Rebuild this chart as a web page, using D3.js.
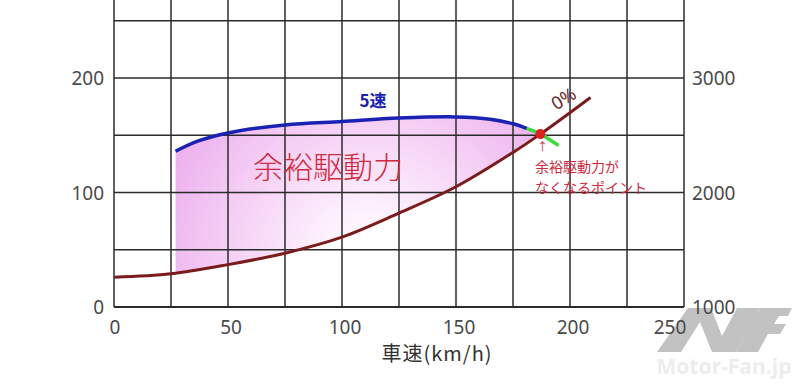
<!DOCTYPE html>
<html>
<head>
<meta charset="utf-8">
<script src="https://cdn.jsdelivr.net/npm/d3@7"></script>
<style>
  body { margin: 0; background: #fff; }
  svg { display: block; }
</style>
</head>
<body>
<div id="chart"></div>
<script>
// speed (km/h) vs driving force
const speedTicks = [0, 50, 100, 150, 200, 250];
const leftTicks = [0, 100, 200];
const rightTicks = [1000, 2000, 3000];

const roadSpeed = [0, 25, 50, 75, 100, 125, 150, 175, 187, 209];
const roadLoad = [26, 29, 37, 47, 61, 82, 105, 135, 151, 183]; // 0%

const gearSpeed = [27, 37, 50, 75, 100, 125, 150, 165, 175, 181];
const gearForce = [136, 145, 152, 159, 162, 165, 166, 164, 160, 156]; // 5速

const tanSpeed = [181, 187, 195];
const tanForce = [156, 151, 141];

const fillBottomSpeed = [27, 50, 75, 100, 125, 150, 175, 187];
const fillBottomForce = [29.5, 37, 47, 61, 82, 105, 135, 151];

const crossPoint = { speed: 187, force: 151 };

const W = 800, H = 388;
const svg = d3.select("#chart").append("svg")
  .attr("width", W).attr("height", H);

const x = d3.scaleLinear().domain([0, 250]).range([114, 684]);
const y = d3.scaleLinear().domain([0, 200]).range([307, 78]);
const yR = d3.scaleLinear().domain([1000, 3000]).range([307, 78]);

const defs = svg.append("defs");
const grad = defs.append("radialGradient")
  .attr("id", "pinkfill")
  .attr("gradientUnits", "userSpaceOnUse")
  .attr("cx", 370).attr("cy", 262).attr("r", 260);
grad.append("stop").attr("offset", "0").attr("stop-color", "#ffffff");
grad.append("stop").attr("offset", "0.2").attr("stop-color", "#fdf1fd");
grad.append("stop").attr("offset", "0.55").attr("stop-color", "#f5cff5");
grad.append("stop").attr("offset", "1").attr("stop-color", "#e8a2ea");

const curve = d3.line().x(d => x(d[0])).y(d => y(d[1])).curve(d3.curveCatmullRom.alpha(0.5));

// pink area between the 5th gear curve and the road load
const topPts = gearSpeed.map((s, i) => [s, gearForce[i]])
  .concat([[crossPoint.speed, crossPoint.force]]);
const botPts = fillBottomSpeed.map((s, i) => [s, fillBottomForce[i]]).reverse();
svg.append("path")
  .attr("d", curve(topPts) + "L" + curve(botPts).slice(1) + "Z")
  .attr("fill", "url(#pinkfill)");

// grid
const grid = svg.append("g").attr("stroke", "#2b2b2b").attr("stroke-width", 1.5);
d3.range(0, 251, 25).forEach(v => {
  grid.append("line")
    .attr("x1", x(v)).attr("x2", x(v))
    .attr("y1", 0).attr("y2", y(0));
});
d3.range(0, 251, 50).forEach(v => {
  grid.append("line")
    .attr("x1", x(0)).attr("x2", x(250))
    .attr("y1", y(v)).attr("y2", y(v))
    .attr("stroke-width", v === 0 ? 2 : 1.5);
});

// watermark logo (under the tick labels)
const logo = svg.append("g").attr("fill", "#c2c2c2");
logo.append("path").attr("d",
  "M657,352 L681,352 L700,322 L712,352 L736,352 L756,316 L760,308 L737,308 L722,336 L711,308 L688,308 Z");
logo.append("path").attr("d",
  "M736,352 L758,352 L768,334 L780,334 L786,324 L774,324 L779,316 L788,316 L792,308 L760,308 Z");
svg.append("text")
  .attr("x", 724).attr("y", 374)
  .attr("text-anchor", "middle")
  .attr("font-family", "'Open Sans', sans-serif").attr("font-size", 21).attr("font-weight", "bold")
  .attr("fill", "#ededed")
  .text("Motor-Fan.jp");

// tick labels
const tickFont = "'Noto Sans', 'DejaVu Sans', sans-serif";
svg.append("g").selectAll("text").data(leftTicks).join("text")
  .attr("x", 104).attr("y", d => y(d) + 7)
  .attr("text-anchor", "end")
  .attr("font-family", tickFont).attr("font-size", 19)
  .attr("fill", "#4a4a4a")
  .text(d => d);

svg.append("g").selectAll("text").data(speedTicks).join("text")
  .attr("x", d => x(d) + (d === 250 ? -14 : d === 0 ? 1 : 3))
  .attr("y", 334)
  .attr("text-anchor", "middle")
  .attr("font-family", tickFont).attr("font-size", 19)
  .attr("fill", "#4a4a4a")
  .text(d => d);

svg.append("g").selectAll("text").data(rightTicks).join("text")
  .attr("x", 692).attr("y", d => yR(d) + 7)
  .attr("font-family", tickFont).attr("font-size", 19)
  .attr("fill", "#4a4a4a")
  .text(d => d);

svg.append("text")
  .attr("x", 437).attr("y", 361)
  .attr("text-anchor", "middle")
  .attr("font-family", "'Noto Sans CJK JP', sans-serif")
  .attr("font-size", 20).attr("fill", "#333")
  .attr("letter-spacing", 1)
  .text("車速(km/h)");

// curves
svg.append("path")
  .attr("d", curve(roadSpeed.map((s, i) => [s, roadLoad[i]])))
  .attr("fill", "none").attr("stroke", "#7a1c1c").attr("stroke-width", 3);

svg.append("path")
  .attr("d", curve(tanSpeed.map((s, i) => [s, tanForce[i]])))
  .attr("fill", "none").attr("stroke", "#3ddc3d").attr("stroke-width", 3.5);

svg.append("path")
  .attr("d", curve(gearSpeed.map((s, i) => [s, gearForce[i]])))
  .attr("fill", "none").attr("stroke", "#1a22b4").attr("stroke-width", 3.5);

svg.append("circle")
  .attr("cx", x(crossPoint.speed)).attr("cy", y(crossPoint.force))
  .attr("r", 5).attr("fill", "#dd2020");

// labels
const jp = "'Noto Sans CJK JP', sans-serif";
svg.append("text")
  .attr("x", 373).attr("y", 107)
  .attr("text-anchor", "middle")
  .attr("font-family", jp).attr("font-size", 17).attr("font-weight", "bold")
  .attr("fill", "#1a22b4")
  .text("5速");

svg.append("text")
  .attr("x", 328).attr("y", 178)
  .attr("text-anchor", "middle")
  .attr("font-family", jp).attr("font-size", 30).attr("font-weight", 300)
  .attr("fill", "#d0283c")
  .text("余裕駆動力");

svg.append("text")
  .attr("transform", "translate(567,104) rotate(-32)")
  .attr("text-anchor", "middle")
  .attr("font-family", tickFont).attr("font-size", 18)
  .attr("fill", "#6a1c1c")
  .text("0%");

// note under the crossing point
svg.append("text")
  .attr("x", 537).attr("y", 151)
  .attr("font-family", jp).attr("font-size", 11)
  .attr("fill", "#c8283c")
  .text("↑");
svg.append("text")
  .attr("x", 535).attr("y", 172)
  .attr("font-family", jp).attr("font-size", 14)
  .attr("fill", "#d0283c")
  .text("余裕駆動力が");
svg.append("text")
  .attr("x", 535).attr("y", 193)
  .attr("font-family", jp).attr("font-size", 14)
  .attr("fill", "#d0283c")
  .text("なくなるポイント");
</script>
</body>
</html>
